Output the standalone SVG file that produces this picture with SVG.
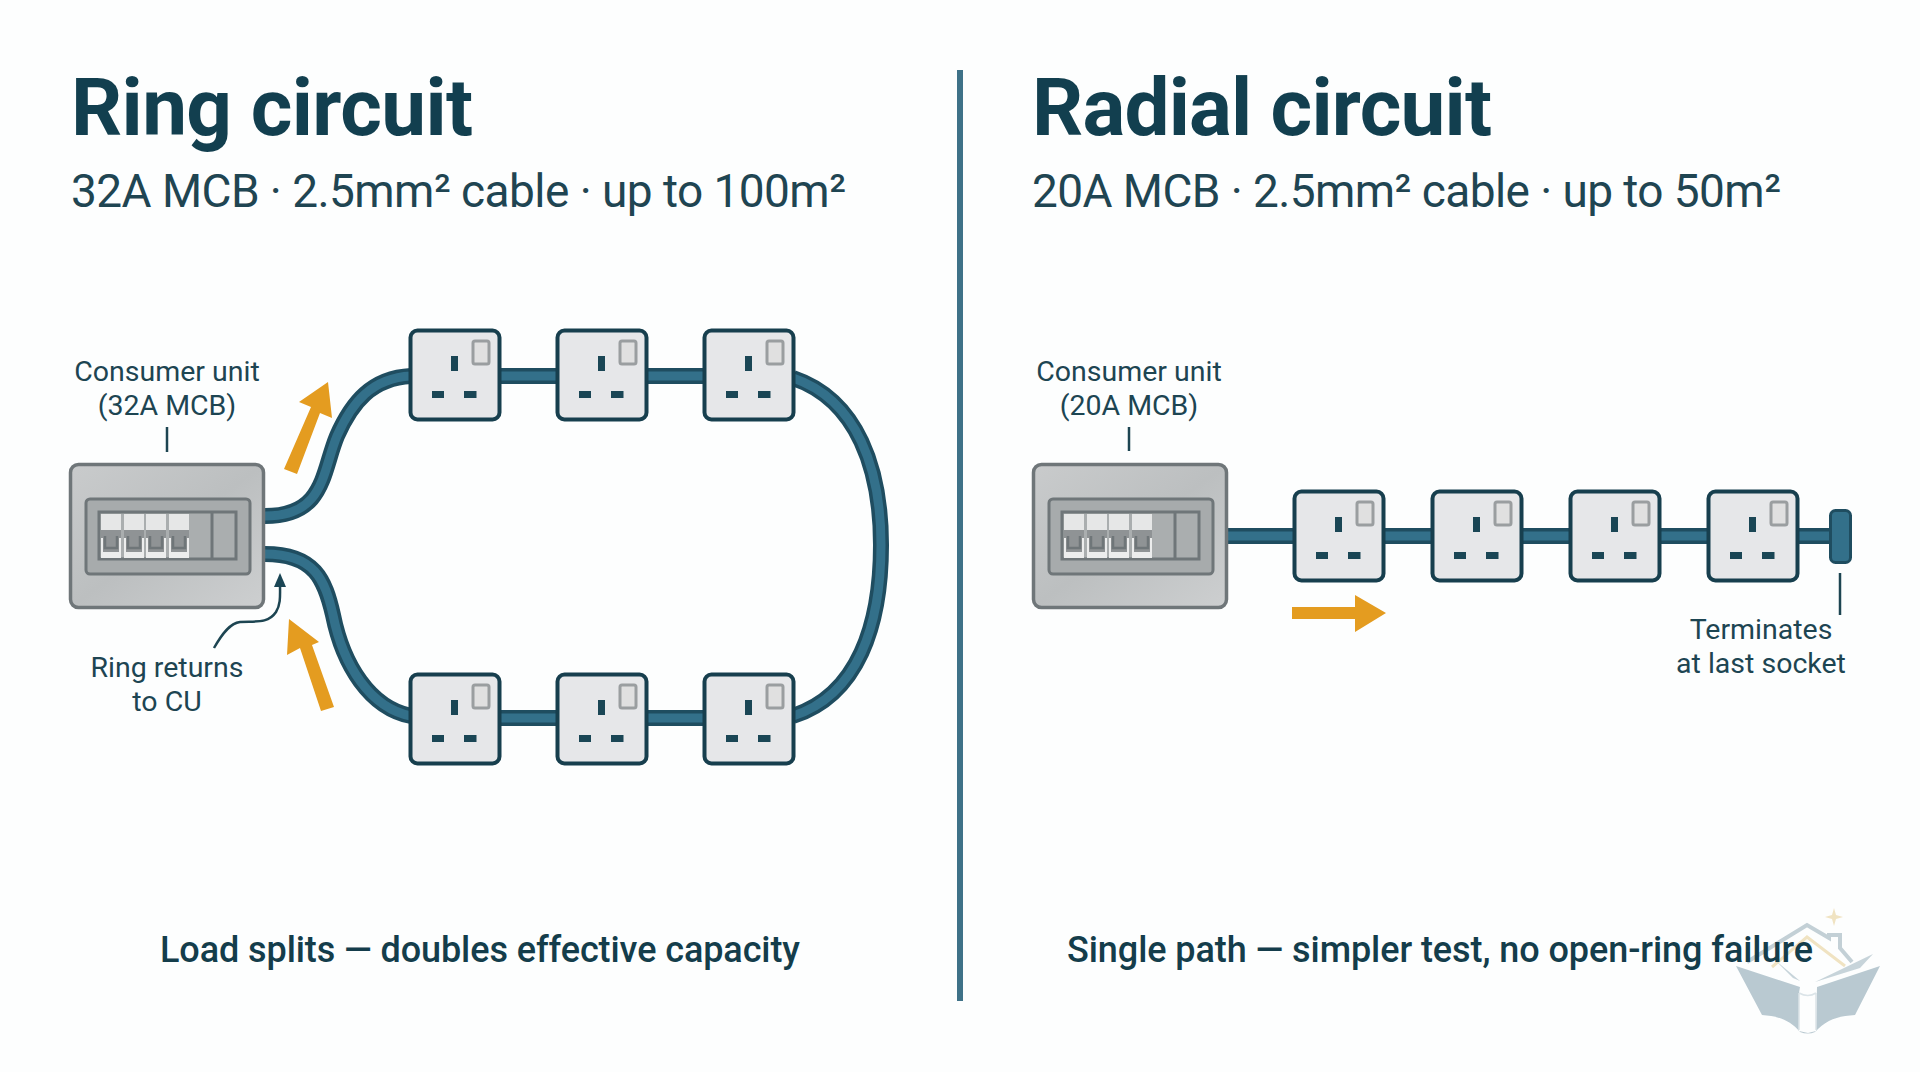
<svg xmlns="http://www.w3.org/2000/svg" width="1920" height="1072" viewBox="0 0 1920 1072">
<style>
.t{font-family:"Roboto","Inter","Liberation Sans",sans-serif;fill:#143d4b}
.h{font-size:80px;font-weight:700;fill:#123f4f}
.s{font-size:46px;font-weight:400;fill:#1f4552}
.l{font-size:28.5px;text-anchor:middle;fill:#1d4552}
.c{font-size:36px;font-weight:500;text-anchor:middle}
.co{fill:none;stroke:#1f4d60;stroke-width:16}
.ci{fill:none;stroke:#33708a;stroke-width:9}
.ld{fill:none;stroke:#1d4552;stroke-width:2.5}
.o{fill:#e49c20}
.p{fill:#1a4655}
.wm{fill:#b9c9d1}
</style>
<defs>
<linearGradient id="cuG" x1="0" y1="0" x2="1" y2="1"><stop offset="0" stop-color="#c9cbcc"/><stop offset=".5" stop-color="#bcbfc0"/><stop offset="1" stop-color="#cdcfd0"/></linearGradient>
<g id="sw">
<rect x="0" y="0" width="20" height="16" fill="#e6e7e7"/>
<rect x="0" y="16" width="20" height="28" fill="#8f9395"/>
<path d="M0 24H2V38H18V24H20V44H0Z" fill="#eceded"/>
<path d="M4 22V34H16V22" fill="none" stroke="#6f7679" stroke-width="2.5"/>
</g>
<g id="cu">
<rect x="1.500" y="1.500" width="193" height="143" rx="8" fill="url(#cuG)" stroke="#6f7679" stroke-width="3.5"/>
<rect x="17" y="36" width="164" height="75" rx="4" fill="#a7abac" stroke="#6f7679" stroke-width="3"/>
<rect x="30" y="49" width="137" height="47" fill="#aaaeaf" stroke="#6f7679" stroke-width="3"/>
<use href="#sw" x="32" y="51"/><use href="#sw" x="55" y="51"/><use href="#sw" x="77" y="51"/><use href="#sw" x="100" y="51"/>
<path d="M143 49V96" stroke="#6f7679" stroke-width="3"/>
</g>
<g id="sk">
<rect x="1.500" y="1.500" width="89" height="89" rx="7" fill="#e6e7e9" stroke="#173f4e" stroke-width="4"/>
<rect x="64" y="12" width="16" height="23" rx="2" fill="#e0e0e0" stroke="#9a9ea0" stroke-width="3"/>
<rect x="42" y="27" width="7" height="15" class="p"/>
<rect x="23" y="62" width="12" height="7" class="p"/>
<rect x="55" y="62" width="12.500" height="7" class="p"/>
</g>
</defs>
<rect width="1920" height="1072" fill="#fdfefe"/>
<g id="watermark">
<path class="wm" d="M1736 966L1800 987L1799 993V1031L1808 1033L1816 1031L1817 987L1880 966L1855 1015C1838 1016 1826 1020 1815 1032Q1808 1035 1800 1032C1790 1020 1778 1016 1762 1015Z"/>
<path d="M1799 993V1030M1816 993V1030M1799 993Q1808 998 1816 993" fill="none" stroke="#dbe4e8" stroke-width="1.500"/>
<path d="M1747 962L1807 925L1829 938V935H1840V948L1852 962" fill="none" stroke="#c3d0d6" stroke-width="4"/>
<path d="M1772 967L1807 937L1845 966" fill="none" stroke="#f0e3c2" stroke-width="3"/>
<path class="wm" d="M1775 960L1800 981L1793 978ZM1873 954L1815 982L1860 968Z" opacity=".8"/>
<path d="M1834 908L1836 915L1843 917L1836 919L1834 926L1832 919L1825 917L1832 915Z" fill="#f0e3c2"/>
</g>
<g id="divider"><rect x="957" y="70" width="6" height="931" fill="#3f7288"/></g>
<g id="titles">
<text class="t h" x="71" y="135" textLength="402">Ring circuit</text>
<text class="t s" x="71" y="207" textLength="775">32A MCB · 2.5mm² cable · up to 100m²</text>
<text class="t h" x="1032" y="135" textLength="460">Radial circuit</text>
<text class="t s" x="1032" y="207" textLength="749">20A MCB · 2.5mm² cable · up to 50m²</text>
<text class="t c" x="480" y="962" textLength="640">Load splits — doubles effective capacity</text>
<text class="t c" x="1440" y="962" textLength="746">Single path — simpler test, no open-ring failure</text>
</g>
<g id="connectors">
<g id="ring-cable">
<path class="co" d="M265 516C325 516 322 472 337 436C352 402 372 378 411 376"/>
<path class="ci" d="M265 516C325 516 322 472 337 436C352 402 372 378 411 376"/>
<path class="co" d="M265 554C315 554 325 580 333 615C343 665 370 708 411 716"/>
<path class="ci" d="M265 554C315 554 325 580 333 615C343 665 370 708 411 716"/>
<path class="co" d="M500 376H558M646 376H705M646 718H705M500 718H558"/>
<path class="ci" d="M500 376H558M646 376H705M646 718H705M500 718H558"/>
<path class="co" d="M793 378C858 400 881 470 881 545C881 625 858 695 793 716"/>
<path class="ci" d="M793 378C858 400 881 470 881 545C881 625 858 695 793 716"/>
</g>
<g id="radial-cable">
<path class="co" d="M1227 536H1295M1382 536H1433M1520 536H1572M1658 536H1709M1797 536H1832"/>
<path class="ci" d="M1227 536H1295M1382 536H1433M1520 536H1572M1658 536H1709M1797 536H1832"/>
</g>
<path class="ld" d="M167 427V452"/>
<path class="ld" d="M1129 427V451"/>
<path class="ld" d="M1840 573V615"/>
<path class="ld" d="M214 648C222 634 230 623 240 622C255 621 268 624 276 612C281 604 280 595 280 584"/>
<path class="p" d="M280 573L286 587H274Z"/>
<g id="flow">
<path class="o" d="M284 469L297 474L320 413L332 418L328 382L299 402L311 407Z"/>
<path class="o" d="M321 711L334 707L312 645L319 642L289 619L287 655L300 648Z"/>
<path class="o" d="M1292 607H1355V595L1386 613L1355 632V619H1292Z"/>
</g>
</g>
<g id="cu-ring"><use href="#cu" x="69" y="463"/>
<text class="t l" x="167" y="381">Consumer unit</text><text class="t l" x="167" y="415">(32A MCB)</text></g>
<g id="ring-label"><text class="t l" x="167" y="677">Ring returns</text><text class="t l" x="167" y="711">to CU</text></g>
<g id="s1"><use href="#sk" x="409" y="329"/></g>
<g id="s2"><use href="#sk" x="556" y="329"/></g>
<g id="s3"><use href="#sk" x="703" y="329"/></g>
<g id="s4"><use href="#sk" x="409" y="673"/></g>
<g id="s5"><use href="#sk" x="556" y="673"/></g>
<g id="s6"><use href="#sk" x="703" y="673"/></g>
<g id="cu-radial"><use href="#cu" x="1032" y="463"/>
<text class="t l" x="1129" y="381">Consumer unit</text><text class="t l" x="1129" y="415">(20A MCB)</text></g>
<g id="s7"><use href="#sk" x="1293" y="490"/></g>
<g id="s8"><use href="#sk" x="1431" y="490"/></g>
<g id="s9"><use href="#sk" x="1569" y="490"/></g>
<g id="s10"><use href="#sk" x="1707" y="490"/></g>
<g id="end-cap"><rect x="1830.500" y="510.500" width="20" height="52" rx="5" fill="#33708a" stroke="#1f4d60" stroke-width="3"/>
<text class="t l" x="1761" y="639">Terminates</text><text class="t l" x="1761" y="673">at last socket</text></g>
</svg>
